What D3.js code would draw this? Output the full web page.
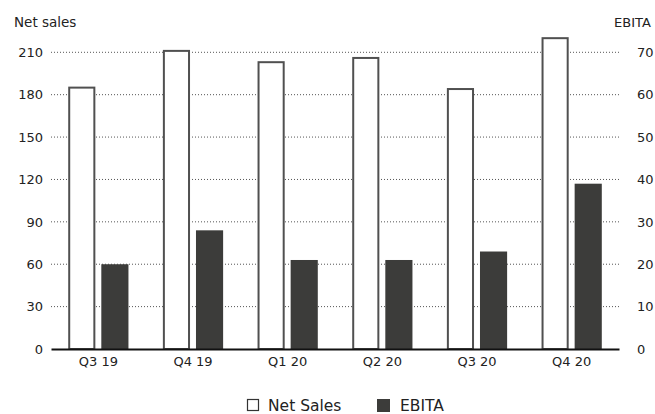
<!DOCTYPE html>
<html>
<head>
<meta charset="utf-8">
<script src="https://cdn.jsdelivr.net/npm/d3@7"></script>
<style>
  html, body { margin: 0; padding: 0; background: #fff; overflow: hidden; }
  svg { display: block; font-family: "DejaVu Sans", sans-serif; }
</style>
</head>
<body>
<svg id="chart" width="655" height="414"></svg>
<script>
// Quarterly net sales (left axis) and EBITA (right axis)
const quarters = ["Q3 19", "Q4 19", "Q1 20", "Q2 20", "Q3 20", "Q4 20"];
const netSales = [185, 211, 203, 206, 184, 220];
const ebita = [20, 28, 21, 21, 23, 39];
const salesTicks = [0, 30, 60, 90, 120, 150, 180, 210];
const ebitaTicks = [0, 10, 20, 30, 40, 50, 60, 70];

const svg = d3.select("#chart");
const plotLeft = 51, plotRight = 619, plotTop = 52.3, plotBottom = 349;
const textColor = "#222";
const font = "DejaVu Sans, sans-serif";

const x = d3.scaleBand().domain(quarters).range([plotLeft, plotRight]);
const sub = d3.scaleBand().domain(["sales", "ebita"])
  .range([0, x.bandwidth()]).paddingInner(0.18).paddingOuter(0.52);
const ySales = d3.scaleLinear().domain([0, 210]).range([plotBottom, plotTop]);
const yEbita = d3.scaleLinear().domain([0, 70]).range([plotBottom, plotTop]);

// dotted horizontal gridlines
svg.append("g")
  .selectAll("line").data(salesTicks.filter(d => d > 0)).join("line")
  .attr("x1", plotLeft).attr("x2", plotRight)
  .attr("y1", d => ySales(d)).attr("y2", d => ySales(d))
  .attr("stroke", "#555").attr("stroke-width", 1)
  .attr("stroke-dasharray", "1,2");

// left axis
const leftAxis = svg.append("g").attr("transform", `translate(${plotLeft - 8},0)`)
  .call(d3.axisLeft(ySales).tickValues(salesTicks).tickSize(0).tickPadding(0));
leftAxis.select(".domain").remove();
leftAxis.selectAll("text").attr("font-size", 13).attr("fill", textColor)
  .attr("font-family", font);

// right axis
const rightAxis = svg.append("g").attr("transform", `translate(${plotRight + 18},0)`)
  .call(d3.axisRight(yEbita).tickValues(ebitaTicks).tickSize(0).tickPadding(0));
rightAxis.select(".domain").remove();
rightAxis.selectAll("text").attr("font-size", 13).attr("fill", textColor)
  .attr("font-family", font);

// axis titles
svg.append("text").attr("x", 14).attr("y", 27).text("Net sales")
  .attr("font-size", 13.5).attr("fill", textColor);
svg.append("text").attr("x", 614).attr("y", 27).text("EBITA")
  .attr("font-size", 13).attr("fill", textColor);

// bars
const groups = svg.append("g").selectAll("g").data(quarters).join("g")
  .attr("transform", d => `translate(${x(d)},0)`);

groups.append("rect")
  .attr("x", sub("sales") + 1)
  .attr("width", sub.bandwidth() - 2)
  .attr("y", (d, i) => ySales(netSales[i]))
  .attr("height", (d, i) => plotBottom - ySales(netSales[i]))
  .attr("fill", "#fff").attr("stroke", "#505050").attr("stroke-width", 2);

groups.append("rect")
  .attr("x", sub("ebita"))
  .attr("width", sub.bandwidth())
  .attr("y", (d, i) => yEbita(ebita[i]))
  .attr("height", (d, i) => plotBottom - yEbita(ebita[i]))
  .attr("fill", "#3c3c3a");

// baseline and category axis
const xAxis = svg.append("g").attr("transform", `translate(0,${plotBottom})`)
  .call(d3.axisBottom(x).tickSize(0).tickPadding(8));
xAxis.select(".domain").attr("stroke", "#111").attr("stroke-width", 2);
xAxis.selectAll("text").attr("font-size", 13).attr("fill", textColor)
  .attr("font-family", font);

// legend
const legend = svg.append("g");
legend.append("rect").attr("x", 247.5).attr("y", 399.5).attr("width", 11).attr("height", 11)
  .attr("fill", "#fff").attr("stroke", "#333").attr("stroke-width", 1.2);
legend.append("text").attr("x", 268).attr("y", 411).text("Net Sales")
  .attr("font-size", 15.5).attr("fill", textColor);
legend.append("rect").attr("x", 377).attr("y", 399).attr("width", 13).attr("height", 13)
  .attr("fill", "#3c3c3a");
legend.append("text").attr("x", 400).attr("y", 411).text("EBITA")
  .attr("font-size", 15.5).attr("fill", textColor);
</script>
</body>
</html>
